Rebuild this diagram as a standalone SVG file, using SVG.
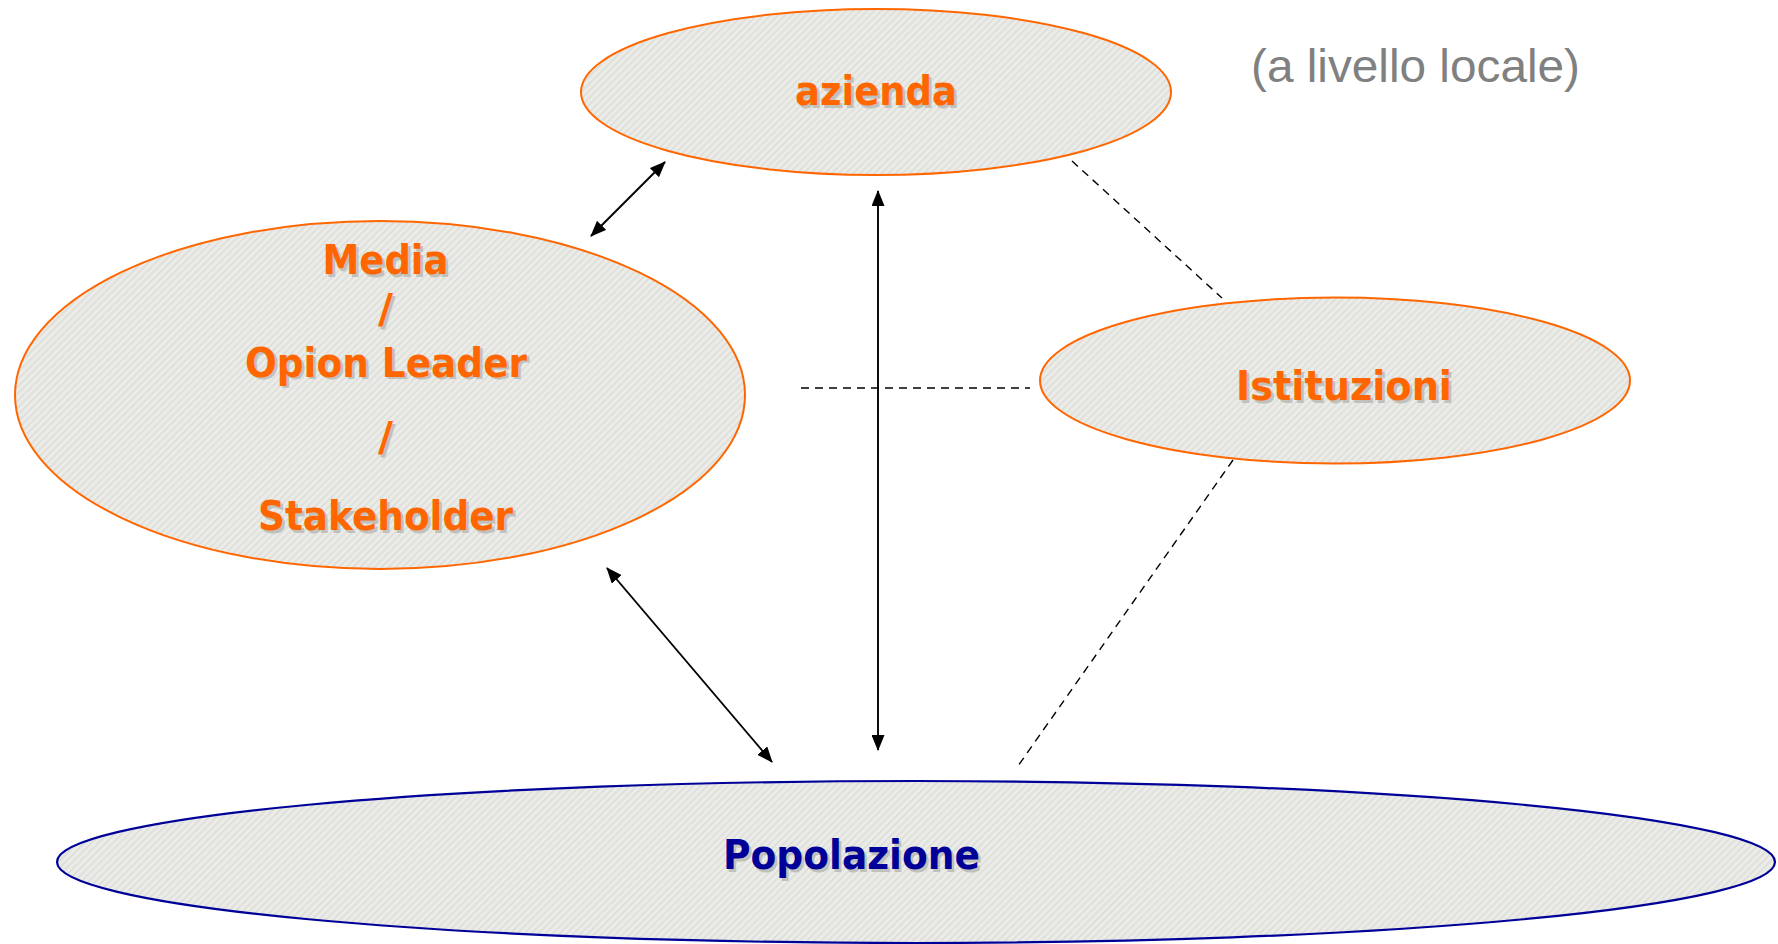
<svg xmlns="http://www.w3.org/2000/svg" width="1778" height="944" viewBox="0 0 1778 944">
<defs>
<pattern id="hatch" width="5" height="5" patternUnits="userSpaceOnUse" patternTransform="rotate(45)">
<rect width="5" height="5" fill="#ebebe7"/>
<rect width="1.6" height="5" fill="#dcdcd8"/>
</pattern>
<marker id="ah" viewBox="0 0 16 13" refX="15" refY="6.5" markerWidth="16" markerHeight="13" markerUnits="userSpaceOnUse" orient="auto-start-reverse">
<path d="M0,0 L16,6.5 L0,13 z" fill="#000"/>
</marker>
<style>
.node{fill:url(#hatch);stroke:#ff6600;stroke-width:2}
.pop{fill:url(#hatch);stroke:#000099;stroke-width:2.2}
.lbl{font-family:"DejaVu Sans","Liberation Sans",sans-serif;font-weight:bold;font-size:41px;text-anchor:middle}
.or{fill:#ff6600}
.bl{fill:#000099}
.sh{fill:#c0c0bc}
.arr{stroke:#000;stroke-width:1.9;fill:none;marker-start:url(#ah);marker-end:url(#ah)}
.dash{stroke:#000;stroke-width:1.4;fill:none;stroke-dasharray:8 6}
.note{font-family:"Liberation Sans",Arial,sans-serif;font-size:46px;fill:#808080}
</style>
</defs>
<rect width="1778" height="944" fill="#fff"/>
<g id="connectors">
<line class="arr" x1="591" y1="236" x2="665" y2="162"/>
<line class="arr" x1="878" y1="191" x2="878" y2="750"/>
<line class="arr" x1="607" y1="568" x2="772" y2="762"/>
<line class="dash" x1="801" y1="388" x2="1030" y2="388"/>
<line class="dash" x1="1072" y1="161" x2="1222" y2="298"/>
<line class="dash" x1="1233" y1="460" x2="1018" y2="766"/>
</g>
<g id="azienda">
<ellipse class="node" cx="876" cy="92" rx="295" ry="83"/>
<text class="lbl sh" x="878.5" y="107.5" textLength="162" lengthAdjust="spacingAndGlyphs">azienda</text>
<text class="lbl or" x="876" y="105" textLength="162" lengthAdjust="spacingAndGlyphs">azienda</text>
</g>
<g id="media">
<ellipse class="node" cx="380" cy="395" rx="365" ry="174"/>
<text class="lbl sh" x="388" y="276.5" textLength="126" lengthAdjust="spacingAndGlyphs">Media</text>
<text class="lbl or" x="385.5" y="274" textLength="126" lengthAdjust="spacingAndGlyphs">Media</text>
<text class="lbl sh" x="388" y="325.5">/</text>
<text class="lbl or" x="385.5" y="323">/</text>
<text class="lbl sh" x="388.5" y="379" textLength="282" lengthAdjust="spacingAndGlyphs">Opion Leader</text>
<text class="lbl or" x="386" y="376.5" textLength="282" lengthAdjust="spacingAndGlyphs">Opion Leader</text>
<text class="lbl sh" x="388" y="453.5">/</text>
<text class="lbl or" x="385.5" y="451">/</text>
<text class="lbl sh" x="388" y="532.5" textLength="255" lengthAdjust="spacingAndGlyphs">Stakeholder</text>
<text class="lbl or" x="385.5" y="530" textLength="255" lengthAdjust="spacingAndGlyphs">Stakeholder</text>
</g>
<g id="istituzioni">
<ellipse class="node" cx="1335" cy="380.5" rx="295" ry="83"/>
<text class="lbl sh" x="1346.5" y="402.5" textLength="216" lengthAdjust="spacingAndGlyphs">Istituzioni</text>
<text class="lbl or" x="1344" y="400" textLength="216" lengthAdjust="spacingAndGlyphs">Istituzioni</text>
</g>
<g id="popolazione">
<ellipse class="pop" cx="916" cy="862" rx="859" ry="81"/>
<text class="lbl sh" x="854" y="871.5" textLength="257" lengthAdjust="spacingAndGlyphs">Popolazione</text>
<text class="lbl bl" x="851.5" y="869" textLength="257" lengthAdjust="spacingAndGlyphs">Popolazione</text>
</g>
<g id="note">
<text class="note" x="1251" y="82" textLength="329" lengthAdjust="spacingAndGlyphs">(a livello locale)</text>
</g>
</svg>
